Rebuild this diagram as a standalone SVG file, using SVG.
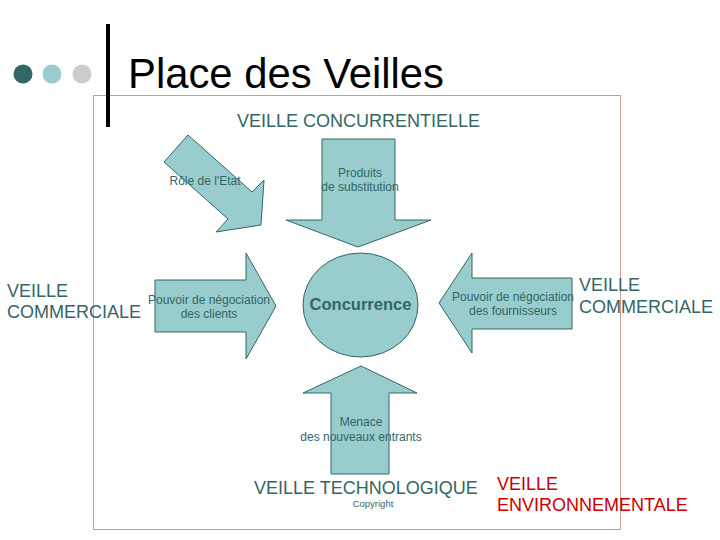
<svg xmlns="http://www.w3.org/2000/svg" width="720" height="540" viewBox="0 0 720 540">
<style>
.shape{fill:#99CCCC;stroke:#336666;stroke-width:1}
.lbl{font-family:"Liberation Sans",Arial,sans-serif;font-size:12px;fill:#336666;text-anchor:middle}
.big{font-family:"Liberation Sans",Arial,sans-serif;font-size:18px;fill:#336666}
.red{font-family:"Liberation Sans",Arial,sans-serif;font-size:18px;fill:#CC0000}
</style>
<rect width="720" height="540" fill="#FFFFFF"/>
<g id="title">
<circle cx="23" cy="74" r="9.5" fill="#336666"/>
<circle cx="52" cy="74" r="9.5" fill="#99CCCC"/>
<circle cx="82" cy="74" r="9.5" fill="#CCCCCC"/>
<rect x="93.5" y="95.5" width="527" height="434" fill="none" stroke="#993333" stroke-width="1" stroke-dasharray="1,1"/>
<rect x="106" y="24" width="4" height="103" fill="#000000"/>
<text x="128" y="88" font-family="Liberation Sans,Arial,sans-serif" font-size="41.8px" fill="#000000">Place des Veilles</text>
</g>
<g id="veille-concurrentielle"><text class="big" x="237" y="127">VEILLE CONCURRENTIELLE</text></g>
<g id="veille-commerciale-left"><text class="big" x="7" y="297">VEILLE</text><text class="big" x="7" y="318">COMMERCIALE</text></g>
<g id="veille-commerciale-right"><text class="big" x="579" y="291">VEILLE</text><text class="big" x="579" y="313">COMMERCIALE</text></g>
<g id="veille-technologique"><text class="big" x="254" y="494">VEILLE TECHNOLOGIQUE</text><text class="lbl" x="373" y="507" style="font-size:9.5px">Copyright</text></g>
<g id="veille-environnementale"><text class="red" x="497" y="490">VEILLE</text><text class="red" x="497" y="511">ENVIRONNEMENTALE</text></g>
<g id="role-etat">
<polygon class="shape" points="188,135 252,192 264,180 261,225 216,232 228,219 164,162"/>
<text class="lbl" x="205" y="185">Rôle de l'Etat</text>
</g>
<g id="produits-substitution">
<polygon class="shape" points="322,139 395,139 395,220 431,220 358,247 286,220 322,220"/>
<text class="lbl" x="360" y="177">Produits</text>
<text class="lbl" x="360" y="191">de substitution</text>
</g>
<g id="clients">
<polygon class="shape" points="155,280 246,280 246,253 276,306 246,359 246,332 155,332"/>
<text class="lbl" x="209" y="304">Pouvoir de négociation</text>
<text class="lbl" x="209" y="318">des clients</text>
</g>
<g id="concurrence">
<ellipse class="shape" cx="360.5" cy="305" rx="57.5" ry="52"/>
<text x="360.5" y="310" font-family="Liberation Sans,Arial,sans-serif" font-size="16.5px" font-weight="bold" fill="#336666" text-anchor="middle">Concurrence</text>
</g>
<g id="fournisseurs">
<polygon class="shape" points="572,278 472,278 472,253 439,303 472,353 472,329 572,329"/>
<text class="lbl" x="513" y="301">Pouvoir de négociation</text>
<text class="lbl" x="513" y="315">des fournisseurs</text>
</g>
<g id="nouveaux-entrants">
<polygon class="shape" points="361,366 417,393 389,393 389,474 331,474 331,393 303,393"/>
<text class="lbl" x="361" y="426">Menace</text>
<text class="lbl" x="361" y="441">des nouveaux entrants</text>
</g>
</svg>
